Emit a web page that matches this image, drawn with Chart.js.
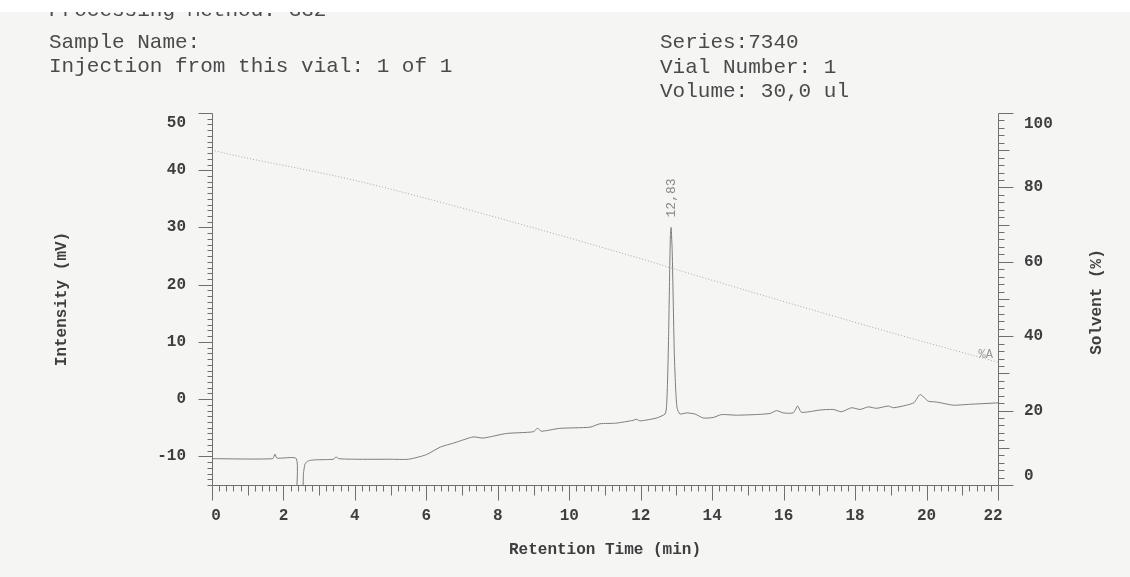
<!DOCTYPE html>
<html>
<head>
<meta charset="utf-8">
<script src="https://cdn.jsdelivr.net/npm/chart.js@4.4.0/dist/chart.umd.min.js"></script>
<style>
  html, body { margin: 0; padding: 0; background: #f5f5f4; }
  #wrap { position: relative; width: 1130px; height: 577px; overflow: hidden; }
  #band { position: absolute; left: 0; top: 0; width: 1130px; height: 12px; background: #ffffff; z-index: 5; }
  .hd { position: absolute; font-family: 'Liberation Mono', 'Courier New', monospace; font-size: 21px; color: #4a4a4a; white-space: pre; }
  #c { position: absolute; left: 0; top: 0; }
</style>
</head>
<body>
<div id="wrap">
  <canvas id="c" width="1130" height="577"></canvas>
  <div class="hd" style="left:49px;top:-1px;line-height:24px;">Processing Method: GG2</div>
  <div id="band"></div>
  <div class="hd" style="left:49px;top:31px;line-height:24px;">Sample Name:<br>Injection from this vial: 1 of 1</div>
  <div class="hd" style="left:660px;top:31px;line-height:24.5px;">Series:7340<br>Vial Number: 1<br>Volume: 30,0 ul</div>
</div>
<script>
// ---- data ----
const retentionTimes = [0, 1.70, 1.76, 1.82, 2.36, 2.38, 2.53, 2.56, 2.60, 2.66, 2.75, 2.90, 3.40, 3.47, 3.55, 4.00, 5.00, 5.50, 6.00, 6.38, 6.80, 7.31, 7.59, 8.24, 8.99, 9.11, 9.22, 9.74, 10.58, 10.86, 11.30, 11.79, 11.88, 11.98, 12.44, 12.68, 12.72, 12.75, 12.78, 12.81, 12.83, 12.85, 12.88, 12.91, 12.94, 12.98, 13.02, 13.10, 13.28, 13.52, 13.75, 14.03, 14.26, 14.68, 15.20, 15.62, 15.80, 15.99, 16.27, 16.39, 16.50, 17.02, 17.39, 17.62, 17.90, 18.14, 18.37, 18.60, 18.93, 19.07, 19.44, 19.65, 19.82, 20.05, 20.28, 20.75, 21.21, 22.00];
const intensityMV = [-10.4, -10.4, -9.6, -10.3, -10.4, -17, -17, -13, -11.4, -10.9, -10.7, -10.6, -10.5, -10.1, -10.4, -10.5, -10.5, -10.5, -9.7, -8.4, -7.6, -6.6, -6.8, -6.0, -5.7, -5.1, -5.6, -5.1, -4.9, -4.3, -4.2, -3.7, -3.5, -3.8, -3.3, -2.6, -1.5, 3, 11, 22, 28.5, 30, 26, 17, 8, 1.5, -1.6, -2.6, -2.4, -2.6, -3.3, -3.2, -2.7, -2.8, -2.7, -2.5, -2.0, -2.4, -2.4, -1.2, -2.3, -1.9, -1.8, -2.2, -1.5, -1.8, -1.35, -1.6, -1.2, -1.5, -1.05, -0.6, 0.8, -0.35, -0.5, -1.05, -0.9, -0.65];
const gradientTimes = [0, 0.78, 3.58, 5.26, 11.98, 12.83, 18.70, 22.00];
const solventPct = [90, 88.3, 82.8, 78.9, 60.9, 58.4, 41.8, 33];
const peakTimes = [12.83];
const peakLabels = ['12,83'];
const xTicks = [0, 2, 4, 6, 8, 10, 12, 14, 16, 18, 20, 22];
const yTicks = [-10, 0, 10, 20, 30, 40, 50];
const y2Ticks = [0, 20, 40, 60, 80, 100];
const solventLabel = '%A';
const xTitle = 'Retention Time (min)';
const yTitle = 'Intensity (mV)';
const y2Title = 'Solvent (%)';

const traceData = retentionTimes.map((t, i) => ({ x: t, y: intensityMV[i] }));
const gradData = gradientTimes.map((t, i) => ({ x: t, y: solventPct[i] }));

const MONO = "'Liberation Mono', 'Courier New', monospace";

const axesPlugin = {
  id: 'axesPlugin',
  afterDatasetsDraw(chart) {
    const ctx = chart.ctx;
    const a = chart.chartArea;
    const xs = chart.scales.x, ys = chart.scales.y, y2 = chart.scales.y2;
    ctx.save();
    ctx.strokeStyle = '#6f6f6f';
    ctx.lineWidth = 1;
    // axis lines
    ctx.beginPath();
    const L = Math.round(a.left) + 0.5, R = Math.round(a.right) + 0.5, B = Math.round(a.bottom) + 0.5, T = Math.round(a.top) + 0.5;
    ctx.moveTo(L, T); ctx.lineTo(L, B); ctx.lineTo(R, B); ctx.lineTo(R, T);
    ctx.stroke();
    // left ticks (every 1, major every 10)
    ctx.beginPath();
    for (let v = ys.min; v <= ys.max + 1e-9; v += 1) {
      const py = Math.round(ys.getPixelForValue(v)) + 0.5;
      const len = (Math.abs(v % 10) < 1e-9) ? 14 : 5;
      ctx.moveTo(L, py); ctx.lineTo(L - len, py);
    }
    // right ticks (every 2, medium 10, major 20)
    for (let v = y2.min; v <= y2.max + 1e-9; v += 2) {
      const py = Math.round(y2.getPixelForValue(v)) + 0.5;
      const len = (v % 20 === 0) ? 15 : (v % 10 === 0 ? 11 : 6);
      ctx.moveTo(R, py); ctx.lineTo(R + len, py);
    }
    // bottom ticks (every 0.2, medium 1, major 2)
    for (let k = 0; k <= 110; k++) {
      const v = k * 0.2;
      const px = Math.round(xs.getPixelForValue(v)) + 0.5;
      const len = (k % 10 === 0) ? 15 : (k % 5 === 0 ? 10 : 6);
      ctx.moveTo(px, B); ctx.lineTo(px, B + len);
    }
    ctx.stroke();

    // tick labels
    ctx.fillStyle = '#3e3e3e';
    ctx.font = 'bold 16px ' + MONO;
    ctx.textBaseline = 'middle';
    ctx.textAlign = 'right';
    yTicks.forEach(v => {
      let py = ys.getPixelForValue(v);
      py = Math.max(a.top + 10, Math.min(a.bottom - 9, py));
      ctx.fillText(String(v), a.left - 26, py);
    });
    ctx.textAlign = 'left';
    y2Ticks.forEach(v => {
      let py = y2.getPixelForValue(v);
      py = Math.max(a.top + 11, Math.min(a.bottom - 9, py));
      ctx.fillText(String(v), a.right + 26, py);
    });
    ctx.textAlign = 'center';
    xTicks.forEach(v => {
      let px = xs.getPixelForValue(v);
      px = Math.max(a.left + 4, Math.min(a.right - 5, px));
      ctx.fillText(String(v), px, a.bottom + 31);
    });

    // axis titles
    ctx.font = 'bold 16px ' + MONO;
    ctx.textAlign = 'center';
    ctx.fillText(xTitle, (a.left + a.right) / 2, a.bottom + 65);
    ctx.save();
    ctx.translate(62, (a.top + a.bottom) / 2);
    ctx.rotate(-Math.PI / 2);
    ctx.fillText(yTitle, 0, 0);
    ctx.restore();
    ctx.save();
    ctx.translate(1097, (a.top + a.bottom) / 2 + 3);
    ctx.rotate(-Math.PI / 2);
    ctx.fillText(y2Title, 0, 0);
    ctx.restore();

    // peak labels
    ctx.fillStyle = '#8a8a8a';
    ctx.font = '13px ' + MONO;
    peakTimes.forEach((t, i) => {
      const idx = retentionTimes.indexOf(t);
      let vmax = -Infinity;
      for (let j = Math.max(0, idx - 3); j <= Math.min(intensityMV.length - 1, idx + 3); j++) vmax = Math.max(vmax, intensityMV[j]);
      const px = xs.getPixelForValue(t);
      const py = ys.getPixelForValue(vmax);
      ctx.save();
      ctx.translate(px + 1, py - 10);
      ctx.rotate(-Math.PI / 2);
      ctx.textAlign = 'left';
      ctx.textBaseline = 'middle';
      ctx.fillText(peakLabels[i], 0, 0);
      ctx.restore();
    });
    // solvent label
    ctx.font = '12px ' + MONO;
    ctx.fillStyle = '#9a9a9a';
    ctx.textAlign = 'right';
    ctx.textBaseline = 'middle';
    const last = gradData[gradData.length - 1];
    ctx.fillText(solventLabel, xs.getPixelForValue(last.x) - 5, y2.getPixelForValue(last.y) - 7);
    ctx.restore();
  }
};

new Chart(document.getElementById('c'), {
  type: 'line',
  data: {
    datasets: [
      {
        data: traceData,
        yAxisID: 'y',
        borderColor: '#7c7c7c',
        borderWidth: 1,
        pointRadius: 0,
        tension: 0.2,
        fill: false
      },
      {
        data: gradData,
        yAxisID: 'y2',
        borderColor: '#a9a9a9',
        borderWidth: 1,
        borderDash: [1, 2],
        pointRadius: 0,
        cubicInterpolationMode: 'monotone',
        fill: false
      }
    ]
  },
  options: {
    responsive: false,
    animation: false,
    events: [],
    layout: { padding: { left: 212, right: 132, top: 113, bottom: 92 } },
    plugins: { legend: { display: false }, tooltip: { enabled: false } },
    scales: {
      x: { type: 'linear', min: 0, max: 22, display: false },
      y: { type: 'linear', min: -15, max: 50, display: false },
      y2: { type: 'linear', min: 0, max: 100, display: false, position: 'right' }
    }
  },
  plugins: [axesPlugin]
});
</script>
</body>
</html>
